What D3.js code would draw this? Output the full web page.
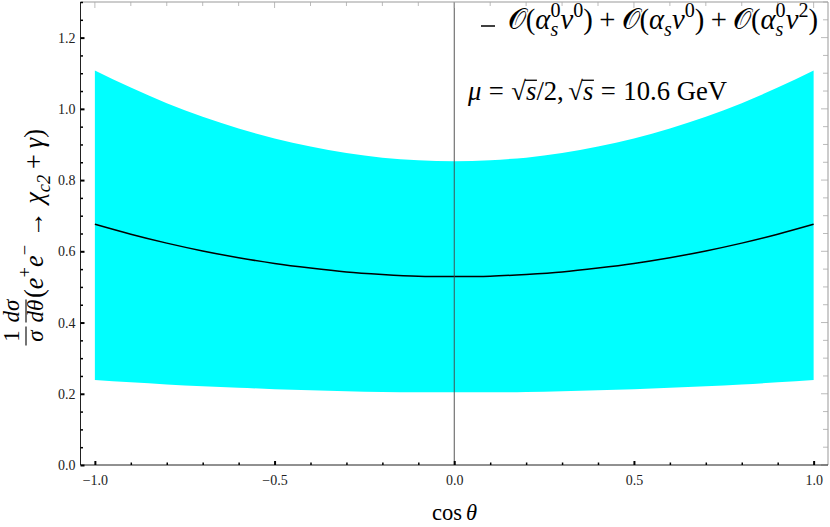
<!DOCTYPE html>
<html><head><meta charset="utf-8">
<script src="https://cdn.jsdelivr.net/npm/d3@7"></script>
<style>
html,body{margin:0;padding:0;background:#fff;}
svg{display:block;}
</style></head>
<body>
<svg id="c" width="830" height="527"></svg>
<script>
// ---- data ----
const cosTheta = [-1.0,-0.9,-0.8,-0.7,-0.6,-0.5,-0.4,-0.3,-0.2,-0.1,0.0,0.1,0.2,0.3,0.4,0.5,0.6,0.7,0.8,0.9,1.0];
const bandUpper = [1.108,1.060,1.016,0.978,0.945,0.917,0.894,0.876,0.863,0.856,0.853,0.856,0.863,0.876,0.894,0.917,0.945,0.978,1.016,1.060,1.108];
const central   = [0.676,0.648,0.623,0.601,0.582,0.566,0.553,0.542,0.535,0.530,0.529,0.530,0.535,0.542,0.553,0.566,0.582,0.601,0.623,0.648,0.676];
const bandLower = [0.239,0.232,0.226,0.221,0.217,0.213,0.210,0.207,0.205,0.204,0.204,0.204,0.205,0.207,0.210,0.213,0.217,0.221,0.226,0.232,0.239];
const xMajorTicks = [-1.0,-0.5,0.0,0.5,1.0];
const yMajorTicks = [0.0,0.2,0.4,0.6,0.8,1.0,1.2];

const svg = d3.select("#c");
const L = 80.5, R = 828, T = 2, B = 465;
const x = d3.scaleLinear().domain([-1.04,1.04]).range([L,R]);
const y = d3.scaleLinear().domain([0,1.3]).range([B,T]);

const pts = cosTheta.map((c,i)=>({c, lo:bandLower[i], hi:bandUpper[i], m:central[i]}));

// band
svg.append("path").datum(pts)
  .attr("d", d3.area().x(d=>x(d.c)).y0(d=>y(d.lo)).y1(d=>y(d.hi)).curve(d3.curveNatural))
  .attr("fill","#00ffff");

// central line
svg.append("path").datum(pts)
  .attr("d", d3.line().x(d=>x(d.c)).y(d=>y(d.m)).curve(d3.curveNatural))
  .attr("fill","none").attr("stroke","#000").attr("stroke-width",1.5);

// vertical axis at x=0
svg.append("line").attr("x1",x(0)).attr("x2",x(0)).attr("y1",T).attr("y2",B)
  .attr("stroke","#444").attr("stroke-width",0.9);

// frame ticks
const xMinor = d3.range(-10,11).map(i=>i/10);
const yMinor = d3.range(0,27).map(i=>i*0.05);
const isMajX = v => xMajorTicks.some(t=>Math.abs(t-v)<1e-6);
const isMajY = v => yMajorTicks.some(t=>Math.abs(t-v)<1e-6);

const fg = svg.append("g");
fg.append("line").attr("x1",L).attr("x2",R).attr("y1",T).attr("y2",T).attr("stroke","#999").attr("stroke-width",1);
fg.append("line").attr("x1",R).attr("x2",R).attr("y1",T).attr("y2",B).attr("stroke","#999").attr("stroke-width",1);
xMinor.forEach(v=>{
  fg.append("line").attr("x1",x(v)).attr("x2",x(v)).attr("y1",T).attr("y2",T+(isMajX(v)?6:4)).attr("stroke","#aaa").attr("stroke-width",0.8);
});
yMinor.forEach(v=>{
  fg.append("line").attr("x1",R).attr("x2",R-(isMajY(v)?7:5)).attr("y1",y(v)).attr("y2",y(v)).attr("stroke","#aaa").attr("stroke-width",0.8);
});

const TICKFONT = "'Liberation Serif', 'DejaVu Serif', serif";
// bottom axis
const fmt = d3.format(".1f");
const xAxis = d3.axisBottom(x).tickValues(xMinor).tickSizeInner(-3).tickSizeOuter(0)
  .tickFormat(d=> isMajX(d) ? fmt(d) : "");
const gx = svg.append("g").attr("transform",`translate(0,${B})`).call(xAxis);
gx.attr("font-family",null);
gx.select(".domain").attr("d",`M${L},0H${R}`).attr("stroke","#222");
gx.selectAll(".tick line").attr("stroke","#000").attr("stroke-width",d=>isMajX(d)?2:1.5)
  .attr("y2",d=>isMajX(d)?-4:-2.5);
gx.selectAll(".tick text").attr("y",10).attr("dy","0.71em").style("font-family",TICKFONT).style("font-size","14px").attr("fill","#222");

// left axis
const yAxis = d3.axisLeft(y).tickValues(yMinor.filter(v=>v<=1.3)).tickSizeInner(-3).tickSizeOuter(0)
  .tickFormat(d=> isMajY(d) ? fmt(d) : "");
const gy = svg.append("g").attr("transform",`translate(${L},0)`).call(yAxis);
gy.attr("font-family",null);
gy.select(".domain").attr("d",`M0,${B}V${T}`).attr("stroke","#222");
gy.selectAll(".tick line").attr("stroke","#000").attr("stroke-width",d=>isMajY(d)?2:1.5)
  .attr("x2",d=>isMajY(d)?4:2.5);
gy.selectAll(".tick text").attr("x",-5).style("font-family",TICKFONT).style("font-size","14px").attr("fill","#222");

// ---- mini math layout ----
const SERIF = "'Liberation Serif', 'DejaVu Serif', serif";
function layout(g, tokens, F){
  let cx = 0;
  let stackStart = null, stackMax = 0;
  tokens.forEach(tk=>{
    const s = (tk.s||1)*F;
    cx += (tk.pl||0)*F;
    const t = g.append("text").attr("x",cx).attr("y",(tk.dy||0)*F)
      .style("font-family", tk.f || SERIF).style("font-size", s+"px")
      .style("font-style", tk.i ? "italic" : "normal")
      .attr("fill","#000")
      .text(tk.t);
    const w = t.node().getComputedTextLength();
    if (tk.over){
      g.append("line").attr("x1",cx-0.04*F).attr("x2",cx+w+0.02*F).attr("y1",-0.74*F).attr("y2",-0.74*F)
        .attr("stroke","#000").attr("stroke-width",0.05*F);
    }
    if (tk.stackA){ stackStart = cx; stackMax = w; return; }
    if (tk.stackB){ stackMax = Math.max(stackMax,w); cx = stackStart + stackMax + (tk.pr||0)*F; return; }
    cx += w + (tk.pr||0)*F;
  });
  return cx;
}
function placeFit(parent, tokens, F, tx, ty, targetW){
  const g = parent.append("g");
  const w = layout(g, tokens, F);
  const k = targetW ? targetW / w : 1;
  g.attr("transform", `translate(${tx},${ty}) scale(${k})`);
  return g;
}

const CAL = "'DejaVu Sans', 'Noto Sans', serif";
const O = {t:"𝒪", f:CAL};
const sup0 = {t:"0", s:0.7, dy:-0.42};
const subS = {t:"s", s:0.7, dy:0.25, i:true};
const PLUS = {t:"+", pl:0.22, pr:0.22};
const line1 = [
  O,{t:"("},{t:"α",i:true},{...sup0,stackA:true},{...subS,stackB:true},{t:"v",i:true},sup0,{t:")"},
  PLUS,
  O,{t:"("},{t:"α",i:true},subS,{t:"v",i:true},sup0,{t:")"},
  PLUS,
  O,{t:"("},{t:"α",i:true},{...sup0,stackA:true},{...subS,stackB:true},{t:"v",i:true},{t:"2",s:0.7,dy:-0.42},{t:")"}
];
svg.append("line").attr("x1",481).attr("x2",495).attr("y1",26).attr("y2",26).attr("stroke","#000").attr("stroke-width",1.5);
placeFit(svg, line1, 21, 508, 29, 310);

const EQ = {t:"=", pl:0.28, pr:0.28};
const line2 = [
  {t:"μ",i:true},EQ,{t:"√"},{t:"s",i:true,over:true},{t:"/2,",pr:0.17},{t:"√"},{t:"s",i:true,over:true},EQ,{t:"10.6",pr:0.25},{t:"GeV"}
];
placeFit(svg, line2, 21, 468, 100, 259);

// x label
const xl = [{t:"cos",pr:0.17},{t:"θ",i:true}];
placeFit(svg, xl, 21, 432, 520, 45);

// y label (rotated)
const yg = svg.append("g").attr("transform","translate(1,346) rotate(-90)");
function frac(g, cxm, num, den, F, numB, barY, denB, wBar){
  const a = g.append("g"); const wa = layout(a, num, F);
  a.attr("transform",`translate(${cxm-wa/2},${numB})`);
  const b = g.append("g"); const wb = layout(b, den, F);
  b.attr("transform",`translate(${cxm-wb/2},${denB})`);
  g.append("line").attr("x1",cxm-wBar/2).attr("x2",cxm+wBar/2).attr("y1",barY).attr("y2",barY).attr("stroke","#000").attr("stroke-width",1.1);
}
frac(yg, 10, [{t:"1"}], [{t:"σ",i:true}], 23, 18, 25, 42, 19);
frac(yg, 35, [{t:"d",i:true},{t:"σ",i:true}], [{t:"d",i:true},{t:"θ",i:true}], 23, 18, 25, 42, 23);
const ylab = [
  {t:"("},{t:"e",i:true},{t:"+",s:0.7,dy:-0.45},{t:"e",i:true},{t:"−",s:0.7,dy:-0.45},{t:"→",pl:0.28,pr:0.28},
  {t:"χ",i:true},{t:"c2",s:0.7,dy:0.25,i:true},PLUS,{t:"γ",i:true},{t:")"}
];
placeFit(yg, ylab, 22, 48, 42, 169);
</script>
</body></html>
